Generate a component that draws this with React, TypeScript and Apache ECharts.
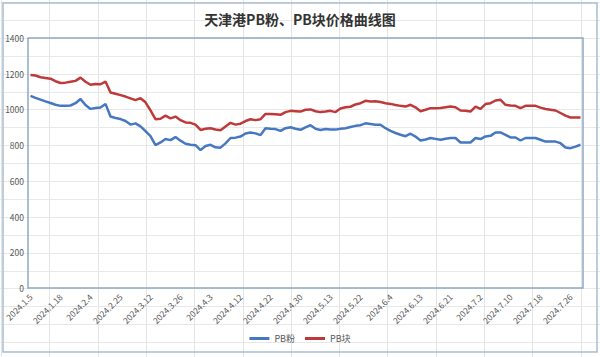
import React, { useEffect, useRef } from "react";
import * as echarts from "echarts";

const titleText = "天津港PB粉、PB块价格曲线图";
const seriesNames = ["PB粉", "PB块"];

const dates = [
  "2024.1.5", "2024.1.8", "2024.1.9", "2024.1.11", "2024.1.15", "2024.1.16",
  "2024.1.18", "2024.1.22", "2024.1.24", "2024.1.26", "2024.1.29", "2024.1.31",
  "2024.2.4", "2024.2.6", "2024.2.7", "2024.2.8", "2024.2.19", "2024.2.21",
  "2024.2.25", "2024.2.27", "2024.2.29", "2024.3.1", "2024.3.5", "2024.3.7",
  "2024.3.12", "2024.3.14", "2024.3.15", "2024.3.19", "2024.3.21", "2024.3.22",
  "2024.3.26", "2024.3.27", "2024.3.28", "2024.3.29", "2024.4.1", "2024.4.2",
  "2024.4.3", "2024.4.7", "2024.4.8", "2024.4.9", "2024.4.10", "2024.4.11",
  "2024.4.12", "2024.4.15", "2024.4.16", "2024.4.17", "2024.4.18", "2024.4.19",
  "2024.4.22", "2024.4.23", "2024.4.24", "2024.4.25", "2024.4.26", "2024.4.28",
  "2024.4.30", "2024.5.6", "2024.5.7", "2024.5.8", "2024.5.9", "2024.5.10",
  "2024.5.13", "2024.5.14", "2024.5.15", "2024.5.16", "2024.5.17", "2024.5.21",
  "2024.5.22", "2024.5.23", "2024.5.24", "2024.5.27", "2024.5.28", "2024.5.31",
  "2024.6.4", "2024.6.5", "2024.6.6", "2024.6.7", "2024.6.11", "2024.6.12",
  "2024.6.13", "2024.6.14", "2024.6.17", "2024.6.18", "2024.6.19", "2024.6.20",
  "2024.6.21", "2024.6.24", "2024.6.25", "2024.6.26", "2024.6.27", "2024.6.28",
  "2024.7.2", "2024.7.3", "2024.7.4", "2024.7.5", "2024.7.8", "2024.7.9",
  "2024.7.10", "2024.7.11", "2024.7.12", "2024.7.15", "2024.7.16", "2024.7.17",
  "2024.7.18", "2024.7.19", "2024.7.22", "2024.7.23", "2024.7.24", "2024.7.25",
  "2024.7.26", "2024.7.29", "2024.7.30",
];

const pbFen = [
  1076, 1065, 1055, 1045, 1036, 1026, 1020, 1020, 1022, 1035,
  1058, 1025, 1003, 1008, 1011, 1031, 960, 952, 946, 935,
  915, 922, 905, 878, 850, 800, 815, 834, 828, 845,
  825, 808, 802, 800, 772, 795, 802, 788, 786, 810,
  840, 842, 848, 865, 871, 866, 856, 895, 892, 890,
  880, 895, 900, 892, 886, 900, 912, 892, 885, 890,
  888, 887, 892, 895, 902, 908, 912, 922, 918, 914,
  914, 895, 880, 868, 858, 850, 864, 848, 826, 832,
  840, 835, 830, 836, 840, 840, 815, 815, 815, 840,
  834, 849, 852, 871, 871, 858, 843, 843, 826, 840,
  840, 840, 830, 820, 820, 820, 811, 787, 783, 792,
  802,
];

const pbKuai = [
  1193, 1190, 1180, 1176, 1172, 1158, 1148, 1150, 1155, 1160,
  1178, 1155, 1138, 1142, 1141, 1156, 1095, 1088, 1080, 1072,
  1062, 1052, 1063, 1040, 995, 945, 948, 965, 950, 960,
  940, 927, 925, 915, 885, 892, 895, 888, 884, 905,
  925, 915, 920, 935, 945, 940, 945, 975, 975, 973,
  970, 985, 992, 990, 988, 998, 1000, 990, 985, 988,
  992, 985, 1005, 1012, 1015, 1028, 1035, 1048, 1045, 1046,
  1042, 1035, 1031, 1025, 1020, 1016, 1026, 1012, 990, 998,
  1007, 1007, 1008, 1012, 1016, 1012, 994, 992, 988, 1016,
  1003, 1030, 1035, 1050, 1054, 1026, 1022, 1020, 1007, 1020,
  1020, 1020, 1010, 1002, 998, 994, 980, 965, 955, 955,
  955,
];

const yMin = 0;
const yMax = 1400;
const yStep = 200;

const FONT = "'Noto Sans CJK SC', 'Noto Sans', sans-serif";

export default function App() {
  const ref = useRef<HTMLDivElement>(null);

  useEffect(() => {
    if (!ref.current) return;
    const chart = echarts.init(ref.current, undefined, { renderer: "svg" });

    // Background spreadsheet cell grid (decoration)
    const cellLines: any[] = [];
    for (let x = 1; x < 600; x += 48.3) {
      cellLines.push({
        type: "line",
        z: -10,
        silent: true,
        shape: { x1: Math.round(x) + 0.5, y1: 0, x2: Math.round(x) + 0.5, y2: 357 },
        style: { stroke: "#E4E4E4", lineWidth: 1 },
      });
    }
    for (let y = 2; y < 357; y += 17.9) {
      cellLines.push({
        type: "line",
        z: -10,
        silent: true,
        shape: { x1: 0, y1: Math.round(y) + 0.5, x2: 600, y2: Math.round(y) + 0.5 },
        style: { stroke: "#E8E8E8", lineWidth: 1 },
      });
    }

    chart.setOption({
      animation: false,
      backgroundColor: "#ffffff",
      title: {
        text: titleText,
        left: "center",
        top: 7,
        textStyle: {
          fontFamily: FONT,
          fontSize: 14,
          fontWeight: "bold",
          color: "#333333",
        },
      },
      graphic: [
        ...cellLines,
        {
          type: "rect",
          z: 100,
          silent: true,
          shape: { x: 3, y: 3, width: 594, height: 349 },
          style: { fill: "none", stroke: "#A9BDD1", lineWidth: 1.5 },
        },
      ],
      legend: {
        bottom: 9,
        left: "center",
        icon: "rect",
        itemWidth: 20,
        itemHeight: 3,
        itemGap: 10,
        textStyle: { fontFamily: FONT, fontSize: 9, color: "#595959" },
        data: seriesNames,
      },
      grid: {
        left: 28,
        right: 17,
        top: 38,
        bottom: 69,
        show: true,
        borderColor: "#8FA9C2",
        borderWidth: 1.5,
        backgroundColor: "transparent",
      },
      xAxis: {
        type: "category",
        data: dates,
        boundaryGap: true,
        axisLine: { show: false },
        axisTick: { show: false },
        splitLine: { show: false },
        axisLabel: {
          interval: 5,
          rotate: 45,
          margin: 7,
          fontFamily: FONT,
          fontSize: 8.5,
          color: "#595959",
        },
      },
      yAxis: {
        type: "value",
        min: yMin,
        max: yMax,
        interval: yStep,
        axisLine: { show: false },
        axisTick: { show: false },
        splitLine: { show: false },
        axisLabel: {
          margin: 4,
          fontFamily: FONT,
          fontSize: 8.5,
          color: "#595959",
          formatter: (v: number) => String(v),
        },
      },
      series: [
        {
          name: seriesNames[0],
          type: "line",
          data: pbFen,
          showSymbol: false,
          symbol: "none",
          lineStyle: { color: "#4678C2", width: 2.5 },
          itemStyle: { color: "#4678C2" },
        },
        {
          name: seriesNames[1],
          type: "line",
          data: pbKuai,
          showSymbol: false,
          symbol: "none",
          lineStyle: { color: "#BE3A3A", width: 2.5 },
          itemStyle: { color: "#BE3A3A" },
        },
      ],
    });

    return () => chart.dispose();
  }, []);

  return (
    <div
      ref={ref}
      style={{ position: "fixed", left: 0, top: 0, width: 600, height: 357 }}
    />
  );
}
